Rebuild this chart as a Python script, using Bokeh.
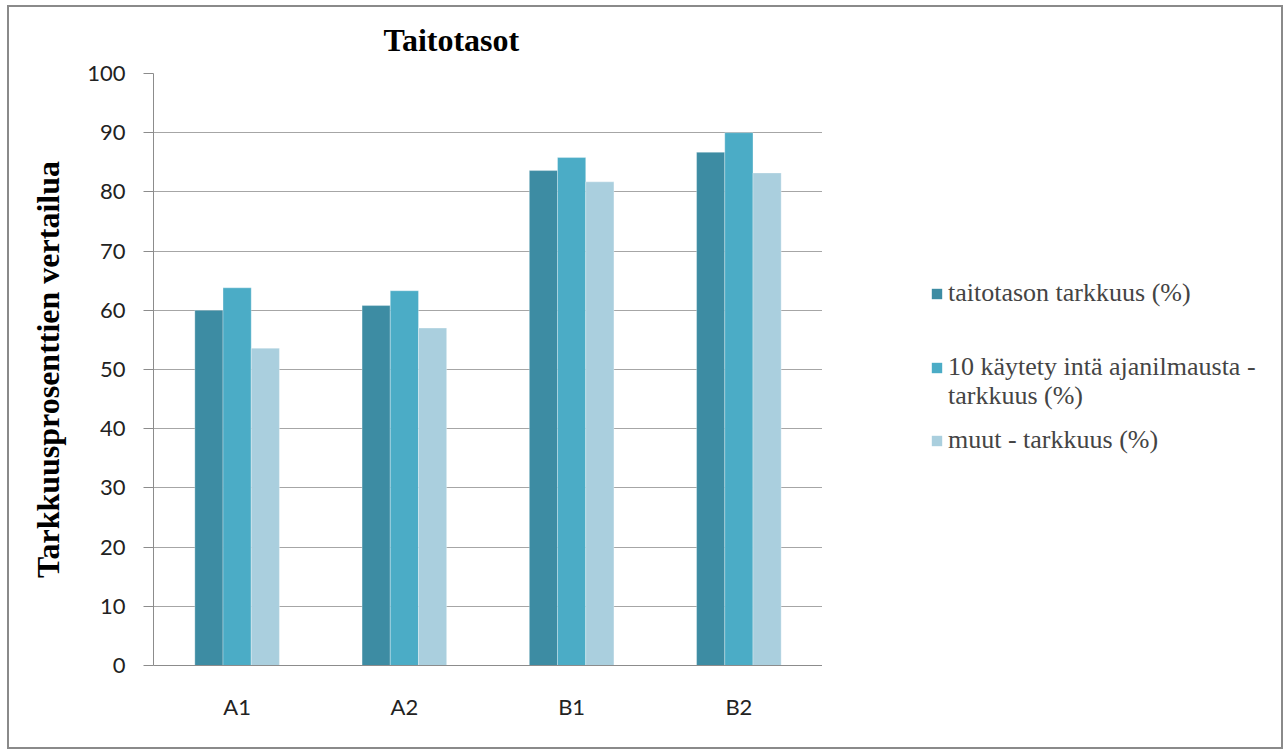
from bokeh.plotting import figure
from bokeh.layouts import row
from bokeh.models import FactorRange, Range1d, Legend, LegendItem, SingleIntervalTicker, ColumnDataSource
from bokeh.transform import dodge
from bokeh.embed import file_html
from bokeh.resources import INLINE

categories = ["A1", "A2", "B1", "B2"]
series_names = ["taitotason tarkkuus (%)",
                "10 käytety intä ajanilmausta -",
                "muut - tarkkuus (%)"]
series2_cont = "tarkkuus (%)"
taitotaso = [60.0, 60.8, 83.6, 86.7]
kaytetyinta = [63.8, 63.3, 85.8, 90.0]
muut = [53.6, 57.0, 81.7, 83.2]
colors = ["#3d8ca3", "#4bacc6", "#aacfde"]

src = ColumnDataSource(dict(cat=categories, s0=taitotaso, s1=kaytetyinta, s2=muut))

p = figure(x_range=FactorRange(*categories), y_range=Range1d(0, 100),
           width=815, height=744, output_backend="svg", toolbar_location=None,
           min_border_left=146, min_border_top=68, min_border_bottom=84, min_border_right=0)

bw = 0.1686
for i, (col, c) in enumerate(zip(["s0", "s1", "s2"], colors)):
    p.vbar(x=dodge("cat", (i - 1) * bw, range=p.x_range), top=col, width=bw,
           source=src, fill_color=c, line_color="white", line_alpha=0.3, line_width=1)

p.outline_line_color = None
p.background_fill_color = "white"
p.border_fill_alpha = 0

p.title.text = "Taitotasot"
p.title.text_font = "Liberation Serif"
p.title.text_font_size = "32px"
p.title.text_font_style = "bold"
p.title.text_color = "black"
p.title.align = "left"
p.title.offset = 230
p.title.vertical_align = "top"
p.title.standoff = 28

p.xgrid.grid_line_color = None
p.ygrid.grid_line_color = "#a6a6a6"
p.ygrid.grid_line_width = 1.2

p.yaxis.ticker = SingleIntervalTicker(interval=10)
p.yaxis.axis_line_color = "#8c8c8c"
p.yaxis.major_tick_line_color = "#8c8c8c"
p.yaxis.major_tick_out = 10
p.yaxis.major_tick_in = 0
p.yaxis.minor_tick_line_color = None
p.yaxis.major_label_standoff = 18
p.yaxis.major_label_text_font = "Lato"
p.yaxis.major_label_text_font_size = "22px"
p.yaxis.major_label_text_color = "#222222"
p.yaxis.axis_label = "Tarkkuusprosenttien vertailua"
p.yaxis.axis_label_text_font = "Liberation Serif"
p.yaxis.axis_label_text_font_size = "32px"
p.yaxis.axis_label_text_font_style = "bold"
p.yaxis.axis_label_text_color = "black"
p.yaxis.axis_label_standoff = 18

p.xaxis.axis_line_color = "#8c8c8c"
p.xaxis.major_tick_line_color = None
p.xaxis.major_tick_out = 0
p.xaxis.minor_tick_line_color = None
p.xaxis.major_label_standoff = 27
p.xaxis.major_label_text_font = "Lato"
p.xaxis.major_label_text_font_size = "22px"
p.xaxis.major_label_text_color = "#222222"

# legend area to the right of the chart; key renderers (hidden) supply the legend swatches
q = figure(width=461, height=744, x_range=p.x_range, y_range=Range1d(1000, 1001),
           output_backend="svg", toolbar_location=None,
           x_axis_location=None, y_axis_location=None, min_border=0)
q.grid.grid_line_color = None
q.outline_line_color = None
q.background_fill_alpha = 0
q.border_fill_alpha = 0
keys = [q.vbar(x=dodge("cat", (i - 1) * bw, range=q.x_range), top=col, width=bw,
               source=src, fill_color=c, line_color=None, visible=False)
        for i, (col, c) in enumerate(zip(["s0", "s1", "s2"], colors))]

legend_rows = [
    (series_names[0], [keys[0]], 357),
    (series_names[1], [keys[1]], 283),
    (series2_cont, [], 254),
    (series_names[2], [keys[2]], 210),
]
for label, rs, vy in legend_rows:
    lg = Legend(items=[LegendItem(label=label, renderers=rs)], location=(108, vy),
                margin=0, padding=0, border_line_color=None, background_fill_alpha=0,
                inactive_fill_alpha=0,
                label_text_font="Liberation Serif", label_text_font_size="26px",
                label_height=20, glyph_width=13, glyph_height=13, label_standoff=5)
    q.add_layout(lg, "center")

layout = row(p, q)
layout.styles = {"box-shadow": "inset 0 0 0 2px #8a8a8a", "background-color": "white",
                 "margin-left": "7px", "margin-top": "5px"}

open("out.html", "w").write(file_html(layout, INLINE))
